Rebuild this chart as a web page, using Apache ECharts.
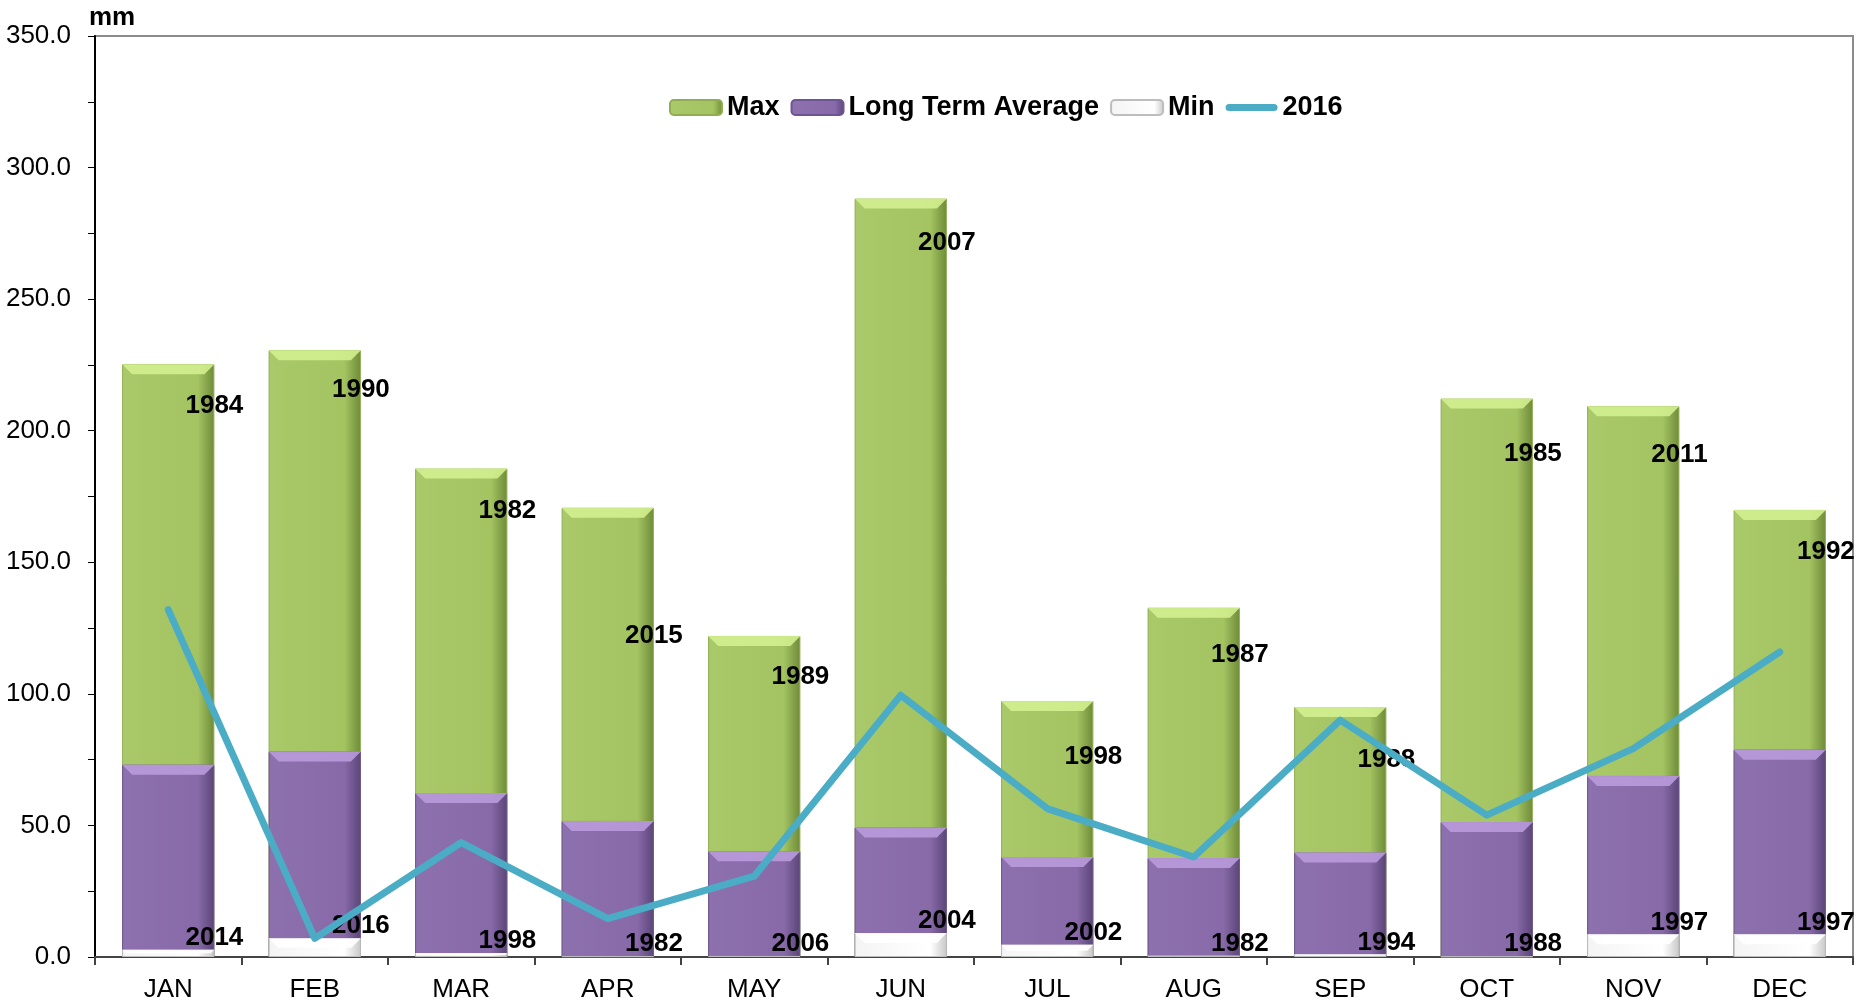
<!DOCTYPE html>
<html>
<head>
<meta charset="utf-8">
<script src="https://cdn.jsdelivr.net/npm/echarts@6/dist/echarts.min.js"></script>
<style>
html,body{margin:0;padding:0;background:#fff;}
#chart{width:1872px;height:1005px;}
</style>
</head>
<body>
<div id="chart"></div>
<script>
// ---- data ----
const months = ['JAN','FEB','MAR','APR','MAY','JUN','JUL','AUG','SEP','OCT','NOV','DEC'];
const maxValues = [225.3, 230.6, 185.6, 170.7, 122.0, 288.2, 97.3, 132.7, 95.0, 212.2, 209.3, 169.9];
const maxYears  = ['1984','1990','1982','2015','1989','2007','1998','1987','1988','1985','2011','1992'];
const avgValues = [73.1, 78.1, 62.3, 51.7, 40.2, 49.2, 38.0, 37.6, 39.7, 51.3, 68.8, 78.8];
const minValues = [2.8, 7.1, 1.5, 0.3, 0.4, 9.1, 4.7, 0.6, 1.0, 0.2, 8.6, 8.6];
const minYears  = ['2014','2016','1998','1982','2006','2004','2002','1982','1994','1988','1997','1997'];
const values2016 = [132.0, 7.1, 43.5, 14.6, 30.7, 99.5, 56.4, 38.0, 90.0, 53.9, 79.2, 115.9];

// ---- layout (label nudges, px below bar top) ----
const maxLabelDy = [42, 40, 42, 128, 41, 44, 56, 47, 53, 55, 49, 42];

const BAR_W = 0.63;
const FONT = '"Liberation Sans", Arial, sans-serif';
const yearFont = {fontFamily: FONT, fontWeight: 'bold', fontSize: 26, color: '#000'};

function hGrad(c0, c1, c2) {
  return {type: 'linear', x: 0, y: 0, x2: 1, y2: 0,
    colorStops: [{offset: 0, color: c0}, {offset: 0.82, color: c1}, {offset: 1, color: c2}]};
}

const chart = echarts.init(document.getElementById('chart'));
chart.setOption({
  animation: false,
  backgroundColor: '#fff',
  grid: {left: 95, right: 19, top: 36, bottom: 48, show: true, borderColor: '#8c8c8c', borderWidth: 2, backgroundColor: 'transparent'},
  legend: {
    data: ['Max', 'Long Term Average', 'Min',
      {name: '2016', icon: 'path://M4,0 L54,0 A4,4 0 0 1 54,8 L4,8 A4,4 0 0 1 4,0 Z'}],
    left: 664, top: 89,
    itemWidth: 52, itemHeight: 15, itemGap: 11,
    textStyle: {fontFamily: FONT, fontWeight: 'bold', fontSize: 27, color: '#000'}
  },
  xAxis: {
    type: 'category', data: months, boundaryGap: true,
    axisLine: {lineStyle: {color: '#444', width: 2}},
    axisTick: {show: true, length: 8, lineStyle: {color: '#444', width: 2}},
    axisLabel: {fontFamily: FONT, fontSize: 26, color: '#000', margin: 20}
  },
  yAxis: {
    type: 'value', min: 0, max: 350, interval: 50,
    name: 'mm', nameLocation: 'end', nameGap: 5,
    nameTextStyle: {fontFamily: FONT, fontWeight: 'bold', fontSize: 26, color: '#000', align: 'left', verticalAlign: 'bottom', padding: [0, 0, 0, -6]},
    axisLine: {show: true, lineStyle: {color: '#000', width: 2}},
    axisTick: {show: true, length: 7, lineStyle: {color: '#000', width: 1}},
    minorTick: {show: true, splitNumber: 2, length: 7, lineStyle: {color: '#000', width: 1}},
    splitLine: {show: false},
    axisLabel: {fontFamily: FONT, fontSize: 26, color: '#000', margin: 24,
      formatter: v => v.toFixed(1)}
  },
  series: [
    {
      name: 'Max', type: 'bar', barWidth: (BAR_W * 100) + '%', barGap: '-100%', z: 2,
      itemStyle: {color: hGrad('#a9c96a', '#a4c462', '#6e8a38'), borderColor: '#8fae52', borderWidth: 1},
      data: maxValues.map((v, i) => ({value: v, label: {position: ['100%', maxLabelDy[i]]}})),
      label: Object.assign({show: true, align: 'center', verticalAlign: 'middle',
        formatter: p => maxYears[p.dataIndex]}, yearFont)
    },
    {
      name: 'Long Term Average', type: 'bar', barWidth: (BAR_W * 100) + '%', barGap: '-100%', z: 2,
      itemStyle: {color: hGrad('#8d70ae', '#886aa9', '#5a4577'), borderColor: '#6f5590', borderWidth: 1},
      data: avgValues
    },
    {
      name: 'Min', type: 'bar', barWidth: (BAR_W * 100) + '%', barGap: '-100%', z: 2,
      itemStyle: {color: hGrad('#f4f4f4', '#ffffff', '#c8c8c8'), borderColor: '#bdbdbd', borderWidth: 1},
      data: minValues,
      label: Object.assign({show: true, position: ['100%', -12], align: 'center', verticalAlign: 'middle',
        formatter: p => minYears[p.dataIndex]}, yearFont)
    },
    {
      name: 'bevel', type: 'custom', silent: true, z: 3,
      data: months.map((m, i) => [i, maxValues[i], avgValues[i], minValues[i]]),
      renderItem: function (params, api) {
        const i = api.value(0);
        const w = api.size([1, 0])[0] * BAR_W / 2;
        const base = api.coord([i, 0]);
        const cx = base[0], y0 = base[1];
        const tops = [api.value(1), api.value(2), api.value(3)];
        const cols = ['#d3ef90', '#b99bdc', '#ffffff'];
        const children = [];
        tops.forEach((v, k) => {
          const y = api.coord([i, v])[1];
          const b = Math.min(10, (y0 - y) / 2);
          if (b < 1) return;
          children.push({
            type: 'polygon',
            shape: {points: [[cx - w, y], [cx + w, y], [cx + w - b, y + b], [cx - w + b, y + b]]},
            style: {fill: cols[k], opacity: 0.9}
          });
        });
        return {type: 'group', children: children};
      }
    },
    {
      name: '2016', type: 'line', data: values2016, z: 4,
      symbol: 'none', smooth: false,
      lineStyle: {color: '#4bacc6', width: 7, cap: 'round', join: 'round'},
      itemStyle: {color: '#4bacc6'}
    }
  ]
});
</script>
</body>
</html>
